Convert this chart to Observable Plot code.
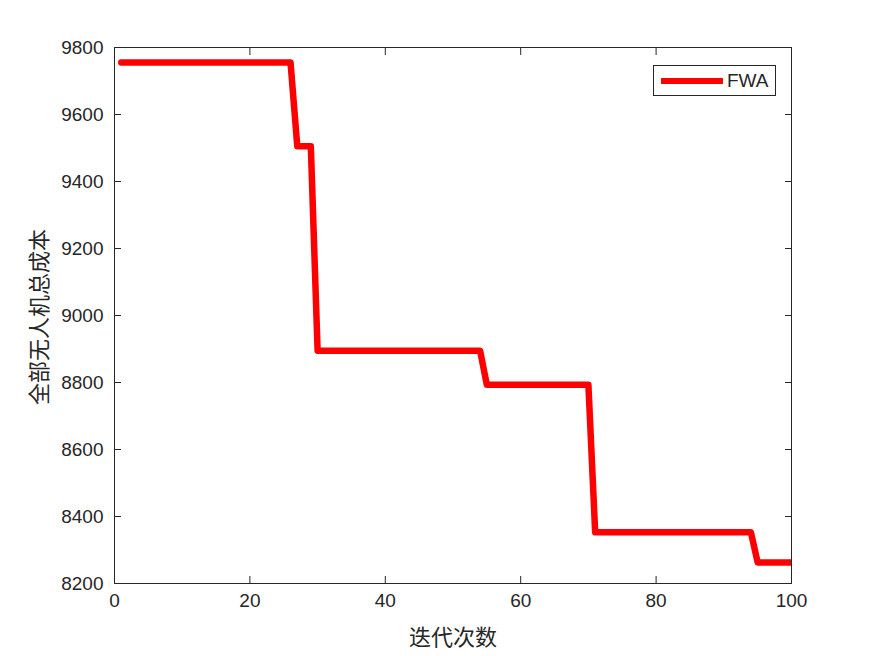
<!DOCTYPE html>
<html><head><meta charset="utf-8">
<script src="https://cdn.jsdelivr.net/npm/d3@7"></script>
<script src="https://cdn.jsdelivr.net/npm/@observablehq/plot@0.6"></script>
<style>
body{margin:0;background:#fff;}
#wrap{position:relative;width:875px;height:656px;}
#legend{position:absolute;left:653px;top:65px;width:123px;height:31px;border:1px solid #262626;background:#fff;box-sizing:border-box;}
#legend .ln{position:absolute;left:7px;top:12px;width:62px;height:6px;background:#ff0000;}
#legend .tx{position:absolute;left:73px;top:4px;font:19px "Liberation Sans",Arial,sans-serif;color:#262626;}
</style></head>
<body><div id="wrap"><div id="chart"></div><div id="legend"><div class="ln"></div><div class="tx">FWA</div></div></div>
<script>
const seriesName = "FWA";
const iterations = Array.from({length:100},(_,i)=>i+1);
const cost = [
9755,9755,9755,9755,9755,9755,9755,9755,9755,9755,
9755,9755,9755,9755,9755,9755,9755,9755,9755,9755,
9755,9755,9755,9755,9755,9755,9505,9505,9505,8895,
8895,8895,8895,8895,8895,8895,8895,8895,8895,8895,
8895,8895,8895,8895,8895,8895,8895,8895,8895,8895,
8895,8895,8895,8895,8793,8793,8793,8793,8793,8793,
8793,8793,8793,8793,8793,8793,8793,8793,8793,8793,
8353,8353,8353,8353,8353,8353,8353,8353,8353,8353,
8353,8353,8353,8353,8353,8353,8353,8353,8353,8353,
8353,8353,8353,8353,8263,8263,8263,8263,8263,8263
];
const xTicks = [0,20,40,60,80,100];
const yTicks = [8200,8400,8600,8800,9000,9200,9400,9600,9800];
const xLabel = "迭代次数";
const yLabel = "全部无人机总成本";
const data = iterations.map((x,i)=>({x, y: cost[i]}));
const ink = "#262626";
const chart = Plot.plot({
  width: 875, height: 656,
  marginLeft: 114, marginRight: 84, marginTop: 47, marginBottom: 73,
  style: {fontFamily: "'Liberation Sans', Arial, sans-serif", fontSize: "19px", color: ink, background: "#fff"},
  x: {domain: [0,100]},
  y: {domain: [8200,9800]},
  marks: [
    Plot.line(data, {x:"x", y:"y", stroke:"#ff0000", strokeWidth:6.5, clip:true}),
    Plot.frame({stroke: ink, strokeWidth: 1}),
    Plot.axisX(xTicks, {anchor:"bottom", tickSize:-7, tickPadding:17, label:null, fontSize:19, tickFormat:"d"}),
    Plot.axisX(xTicks, {anchor:"top", tickSize:-7, tickFormat:()=>"", label:null}),
    Plot.axisY(yTicks, {anchor:"left", tickSize:-7, tickPadding:18, label:null, fontSize:19, tickFormat:"d"}),
    Plot.axisY(yTicks, {anchor:"right", tickSize:-7, tickFormat:()=>"", label:null})
  ]
});
document.getElementById("chart").appendChild(chart);
const svg = d3.select(chart);
svg.append("text").attr("x", 453).attr("y", 645).attr("text-anchor","middle")
  .attr("font-family","'Noto Sans CJK SC', sans-serif").attr("font-size",22).attr("fill",ink).text(xLabel);
svg.append("text").attr("transform","translate(47,317) rotate(-90)").attr("text-anchor","middle")
  .attr("font-family","'Noto Sans CJK SC', sans-serif").attr("font-size",22).attr("fill",ink).text(yLabel);
document.querySelector("#legend .tx").textContent = seriesName;
</script></body></html>
